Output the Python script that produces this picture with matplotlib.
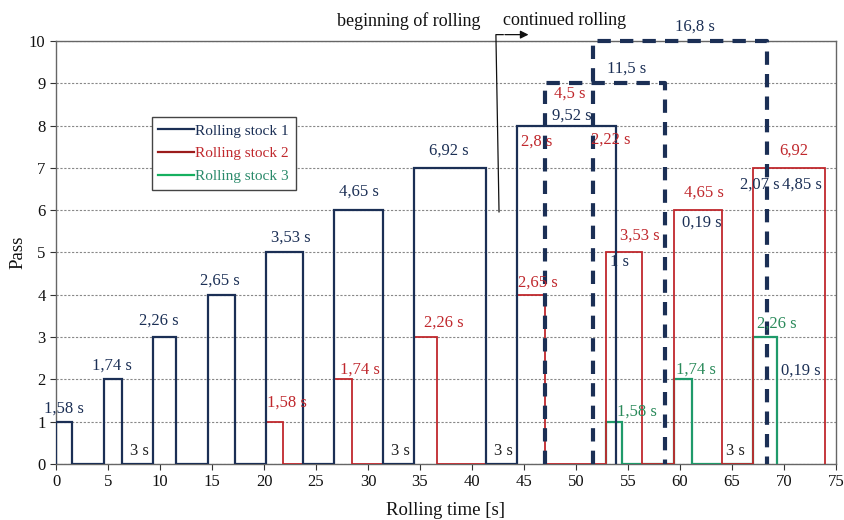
import matplotlib
matplotlib.use("Agg")
import matplotlib.pyplot as plt
from matplotlib.lines import Line2D

# ---------------- data ----------------
stock1_start = [0.0, 4.58, 9.32, 14.58, 20.23, 26.76, 34.41, 44.33]
stock1_dur = [1.58, 1.74, 2.26, 2.65, 3.53, 4.65, 6.92, 9.52]
stock2_start = [20.23, 26.76, 34.41, 44.33, 52.85, 59.40, 67.05]
stock2_dur = [1.58, 1.74, 2.26, 2.65, 3.53, 4.65, 6.92]
stock3_start = [52.85, 59.40, 67.05]
stock3_dur = [1.58, 1.74, 2.26]

box_x0 = [47.0, 51.6]
box_x1 = [58.6, 68.4]
box_h = [9, 10]

series_names = ["Rolling stock 1", "Rolling stock 2", "Rolling stock 3"]

# annotations: text, x, y, colour key
labels = [
    ("1,58 s", 0.8, 1.32, "n"), ("1,74 s", 5.4, 2.32, "n"), ("2,26 s", 9.9, 3.39, "n"),
    ("2,65 s", 15.8, 4.33, "n"), ("3,53 s", 22.6, 5.35, "n"), ("4,65 s", 29.1, 6.43, "n"),
    ("6,92 s", 37.8, 7.40, "n"), ("9,52 s", 49.6, 8.23, "n"), ("11,5 s", 54.9, 9.35, "n"),
    ("16,8 s", 61.4, 10.34, "n"), ("2,07 s", 67.7, 6.61, "n"), ("4,85 s", 71.7, 6.61, "n"),
    ("0,19 s", 62.1, 5.70, "n"), ("1 s", 54.2, 4.77, "n"), ("0,19 s", 71.6, 2.20, "n"),
    ("1,58 s", 22.2, 1.44, "r"), ("1,74 s", 29.2, 2.22, "r"), ("2,26 s", 37.3, 3.33, "r"),
    ("2,65 s", 46.3, 4.29, "r"), ("2,8 s", 46.2, 7.62, "r"), ("4,5 s", 49.4, 8.76, "r"),
    ("2,22 s", 53.3, 7.66, "r"), ("3,53 s", 56.1, 5.39, "r"), ("4,65 s", 62.3, 6.42, "r"),
    ("6,92", 70.9, 7.40, "r"),
    ("1,58 s", 55.9, 1.24, "g"), ("1,74 s", 61.5, 2.22, "g"), ("2,26 s", 69.3, 3.31, "g"),
    ("3 s", 8.0, 0.31, "k"), ("3 s", 33.1, 0.31, "k"), ("3 s", 43.0, 0.31, "k"),
    ("3 s", 65.3, 0.31, "k"),
]

# ---------------- style ----------------
NAVY = "#1b2f55"
RED = "#c0282d"
GREEN = "#1f9a6a"
cols = {"n": NAVY, "r": RED, "g": "#2a8a5a", "k": "#222222"}
plt.rcParams["font.family"] = ["Liberation Serif", "DejaVu Serif"]

fig = plt.figure(figsize=(8.45, 5.2), dpi=100)
ax = fig.add_axes([0.0663, 0.1077, 0.9230, 0.8135])


def step_path(starts, durs):
    xs, ys = [], []
    for i, (s, d) in enumerate(zip(starts, durs)):
        p = i + 1
        xs += [s, s, s + d, s + d]
        ys += [0, p, p, 0]
    return xs, ys


for starts, durs, c, lw in [(stock3_start, stock3_dur, GREEN, 1.6),
                            (stock2_start, stock2_dur, RED, 1.3),
                            (stock1_start, stock1_dur, NAVY, 1.6)]:
    xs, ys = step_path(starts, durs)
    ax.plot(xs, ys, color=c, lw=lw, solid_joinstyle="miter", zorder=3)

for x0, x1, h in zip(box_x0, box_x1, box_h):
    ax.plot([x0, x0, x1, x1], [0, h, h, 0], color=NAVY, lw=3,
            dashes=(3.2, 2.2), zorder=4, clip_on=False)

for t, x, y, k in labels:
    ax.text(x, y, t, color=cols[k], fontsize=12, ha="center", va="center",
            zorder=5, clip_on=False)

# top annotations
ax.text(33.9, 10.48, "beginning of rolling", fontsize=13, ha="center",
        va="center", color="#111111", clip_on=False)
ax.text(48.9, 10.48, "continued rolling", fontsize=13, ha="center",
        va="center", color="#111111", clip_on=False)
ax.plot([42.6, 42.3, 43.0], [5.96, 10.15, 10.15], color="#111111", lw=0.9,
        clip_on=False, zorder=5)
ax.annotate("", xy=(45.7, 10.15), xytext=(42.9, 10.15),
            arrowprops=dict(arrowstyle="-|>", color="#111111", lw=0.9,
                            mutation_scale=12), annotation_clip=False)

ax.set_xlim(0, 75)
ax.set_ylim(0, 10)
ax.set_xticks(range(0, 76, 5))
ax.set_yticks(range(0, 11))
ax.tick_params(labelsize=12, length=4, width=0.8, colors="#333333",
               labelcolor="#111111")
for sp in ax.spines.values():
    sp.set_color("#666666")
    sp.set_linewidth(1.0)
ax.yaxis.grid(True, color="#888888", lw=0.8, linestyle=(0, (2, 1.5)))
ax.set_axisbelow(True)

ax.set_xlabel("Rolling time [s]", fontsize=13.5, labelpad=8, color="#111111")
ax.set_ylabel("Pass", fontsize=13.5, labelpad=2, color="#111111")

handles = [Line2D([0], [0], color=NAVY, lw=1.6),
           Line2D([0], [0], color="#9b1c1c", lw=1.6),
           Line2D([0], [0], color="#16b060", lw=1.6)]
leg = ax.legend(handles, series_names, loc="upper left",
                bbox_to_anchor=(0.1225, 0.8203), borderaxespad=0,
                fontsize=11, frameon=True, fancybox=False,
                edgecolor="#444444", handlelength=2.3, handletextpad=0.1,
                borderpad=0.45, labelspacing=0.6, framealpha=1)
leg.get_frame().set_linewidth(1.0)
for txt, c in zip(leg.get_texts(), [NAVY, RED, "#2a8a6a"]):
    txt.set_color(c)

fig.savefig("out.png", dpi=100)
